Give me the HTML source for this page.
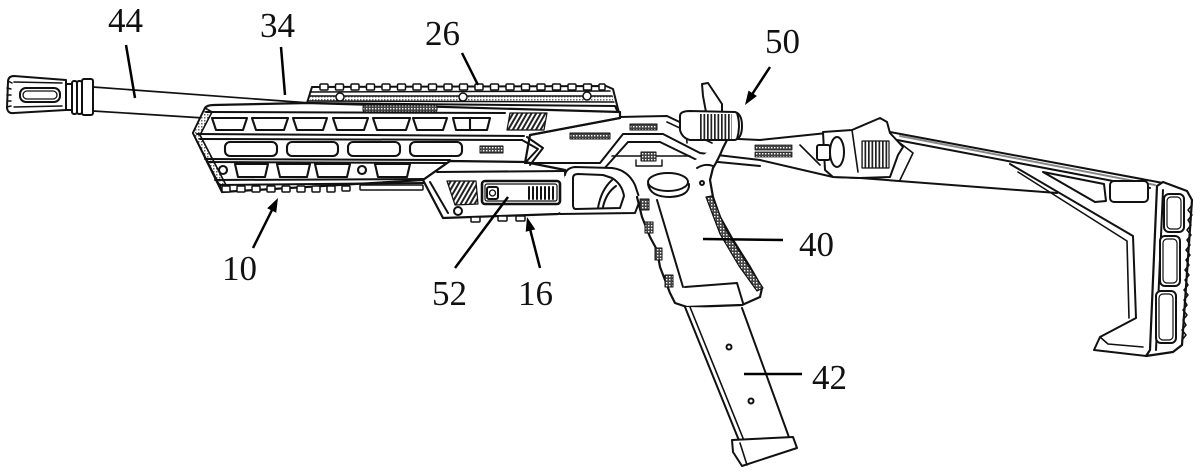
<!DOCTYPE html>
<html><head><meta charset="utf-8">
<style>
html,body{margin:0;padding:0;background:#fff;}
svg{display:block;}
text{font-family:"Liberation Serif","DejaVu Serif",serif;font-size:35px;fill:#111;}
</style></head><body>
<svg width="1200" height="475" viewBox="0 0 1200 475" xmlns="http://www.w3.org/2000/svg">
<defs>
<pattern id="hd" width="4" height="4" patternUnits="userSpaceOnUse" patternTransform="rotate(30)"><rect width="4" height="4" fill="#fff"/><rect width="2" height="4" fill="#222"/></pattern>
<pattern id="hv" width="3.5" height="4" patternUnits="userSpaceOnUse"><rect width="3.5" height="4" fill="#fff"/><rect width="1.7" height="4" fill="#222"/></pattern>
<pattern id="hx" width="3" height="3" patternUnits="userSpaceOnUse"><rect width="3" height="3" fill="#444"/><rect width="1.4" height="1.4" fill="#fff"/></pattern>
<pattern id="hl" width="3" height="3" patternUnits="userSpaceOnUse"><rect width="3" height="3" fill="#fff"/><rect width="1.5" height="1.5" fill="#666"/></pattern>
</defs>

<g fill="none" stroke="#111" stroke-width="2" stroke-linejoin="round" stroke-linecap="round">

<!-- ===== Muzzle & barrel ===== -->
<path d="M66,80 L14,76 Q8,76 8,82 L7,108 Q8,114 14,113 L66,110 Z" fill="#fff"/>
<path d="M8,81 L12,83 M7,88 L11,89 M7,95 L11,95 M7,101 L11,101 M7,107 L11,106" stroke-width="1.5"/>
<path d="M14,82 L62,83 M14,107 L62,106" stroke-width="1.5"/>
<rect x="20" y="88" width="40" height="14" rx="6"/>
<rect x="23" y="91" width="34" height="8" rx="4" stroke-width="1.3"/>
<rect x="66" y="84" width="6" height="26" rx="1"/>
<rect x="72" y="81" width="5" height="33" rx="2"/>
<rect x="77" y="81" width="5" height="33" rx="2"/>
<rect x="82" y="79" width="11" height="36" rx="2"/>
<path d="M93,87 L310,103" stroke-width="1.7"/>
<path d="M93,111 L204,118" stroke-width="1.7"/>

<!-- ===== Top rail (26) ===== -->
<path d="M312,87 L606,86 L613,89 L620,117 L615,106 L307,103 Z" fill="#fff"/>
<rect x="310" y="96" width="303" height="5" fill="url(#hl)" stroke="none"/>
<path d="M310,92 L610,91 M309,96 L612,96 M308,101 L614,102" stroke-width="1.5"/>
<g fill="#fff" stroke-width="1.5">
<rect x="320" y="84" width="8" height="6" rx="1"/><rect x="335.5" y="84" width="8" height="6" rx="1"/><rect x="351" y="84" width="8" height="6" rx="1"/><rect x="366.5" y="84" width="8" height="6" rx="1"/><rect x="382" y="84" width="8" height="6" rx="1"/><rect x="397.5" y="84" width="8" height="6" rx="1"/><rect x="413" y="84" width="8" height="6" rx="1"/><rect x="428.5" y="84" width="8" height="6" rx="1"/><rect x="444" y="84" width="8" height="6" rx="1"/><rect x="459.5" y="84" width="8" height="6" rx="1"/><rect x="475" y="84" width="8" height="6" rx="1"/><rect x="490.5" y="84" width="8" height="6" rx="1"/><rect x="506" y="84" width="8" height="6" rx="1"/><rect x="521.5" y="84" width="8" height="6" rx="1"/><rect x="537" y="84" width="8" height="6" rx="1"/><rect x="552.5" y="84" width="8" height="6" rx="1"/><rect x="568" y="84" width="8" height="6" rx="1"/><rect x="583.5" y="84" width="8" height="6" rx="1"/><rect x="599" y="84" width="6" height="6" rx="1"/>
<circle cx="340" cy="97" r="4"/><circle cx="463" cy="97" r="4"/><circle cx="587" cy="96" r="4"/>
</g>

<!-- ===== Handguard (10, 34) ===== -->
<path d="M205,108 Q207,105 214,105 L308,103 L620,112 L620,118 L530,135 L525,163 L450,161 L423,180 L222,192 L193,133 Z" fill="#fff" stroke-width="2.2"/>
<path d="M205,108 L193,133 L222,190 L226,185 L200,135 L212,112 Z" fill="url(#hl)" stroke-width="1.6"/>
<path d="M206,112 L505,113"/>
<rect x="363" y="105" width="74" height="7" rx="2" fill="url(#hx)" stroke-width="1"/>
<path d="M197,134 L524,136 M200,139 L522,140"/>
<path d="M205,159 L450,160 M207,162 L447,163"/>
<path d="M215,180 L425,179 M220,185 L425,183"/>
<!-- top row slots -->
<g fill="#fff" stroke-width="2.1">
<path d="M212,118 L247,118 L243,130 L216,130 Z"/>
<path d="M252,118 L288,118 L284,130 L256,130 Z"/>
<path d="M293,118 L327,118 L323,130 L297,130 Z"/>
<path d="M333,118 L368,118 L364,130 L337,130 Z"/>
<path d="M373,118 L410,118 L406,130 L377,130 Z"/>
<path d="M413,118 L447,118 L443,130 L417,130 Z"/>
<path d="M453,118 L490,118 L487,130 L456,130 Z M470,118 L470,130"/>
<!-- middle row -->
<rect x="225" y="142" width="52" height="14" rx="5"/>
<rect x="287" y="142" width="51" height="14" rx="5"/>
<rect x="348" y="142" width="52" height="14" rx="5"/>
<rect x="410" y="142" width="52" height="14" rx="5"/>
<!-- lower row -->
<path d="M235,164 L268,164 L265,177 L238,177 Z"/>
<path d="M277,164 L310,164 L307,177 L280,177 Z"/>
<path d="M315,164 L350,164 L347,177 L318,177 Z"/>
<path d="M375,164 L410,164 L407,177 L378,177 Z"/>
<circle cx="223" cy="170" r="4"/><circle cx="362" cy="170" r="4"/>
</g>
<rect x="480" y="146" width="23" height="7" fill="url(#hx)" stroke-width="1"/>
<!-- bottom rail teeth -->
<g fill="#fff" stroke-width="1.5">
<rect x="222" y="186" width="8" height="6" rx="1"/><rect x="237" y="186" width="8" height="6" rx="1"/><rect x="252" y="186" width="8" height="6" rx="1"/><rect x="267" y="186" width="8" height="6" rx="1"/><rect x="282" y="186" width="8" height="6" rx="1"/><rect x="297" y="186" width="8" height="6" rx="1"/><rect x="312" y="186" width="8" height="6" rx="1"/><rect x="327" y="186" width="8" height="6" rx="1"/><rect x="342" y="186" width="8" height="5" rx="1"/>
<rect x="360" y="185" width="63" height="5" rx="1"/>
</g>
<!-- vents -->
<path d="M510,113 L547,113 L544,130 L507,130 Z" fill="url(#hd)" stroke-width="1.2"/>

<!-- ===== Lower extension (16) with button (52) ===== -->
<path d="M423,180 L450,161 L525,162 L565,170 L568,210 L558,214 L443,218 Z" fill="#fff" stroke-width="2.2"/>
<path d="M430,182 L448,213 M437,172 L565,171"/>
<path d="M447,181 L476,181 L478,204 L455,205 Z" fill="url(#hd)" stroke-width="1.2"/>
<rect x="482" y="181" width="78" height="23" rx="3" fill="#fff" stroke-width="2.6"/>
<rect x="485" y="184" width="72" height="17" rx="2" stroke-width="1.2"/>
<rect x="487" y="187" width="11" height="12" rx="2"/>
<circle cx="492.5" cy="193" r="3" stroke-width="1.3"/>
<path d="M529,187 L529,199 M533,187 L533,199 M537,187 L537,199 M541,187 L541,199 M545,187 L545,199 M549,187 L549,199 M553,187 L553,199" stroke-width="2"/>
<circle cx="458" cy="211" r="4" fill="#fff"/>
<g fill="#fff" stroke-width="1.5"><rect x="471" y="217" width="9" height="5" rx="1"/><rect x="498" y="216" width="9" height="5" rx="1"/><rect x="516" y="216" width="9" height="5" rx="1"/></g>

<!-- ===== Central frame ===== -->
<path d="M527,137 L543,148 L530,165 M522,140 L538,149 L525,163"/>
<path d="M530,135 L620,118"/>
<rect x="570" y="133" width="40" height="6" fill="url(#hx)" stroke-width="1"/>
<rect x="630" y="124" width="27" height="6" fill="url(#hx)" stroke-width="1"/>
<path d="M525,163 L600,163 L623,134 L663,134 L700,153 L760,160 L833,177 L860,178 L1057,193"/>
<path d="M603,170 L628,142 L660,142 L697,160 L760,166"/>
<path d="M612,156 L690,156" stroke-width="1.6"/>
<rect x="641" y="152" width="15" height="9" fill="url(#hx)" stroke-width="1"/>
<path d="M636,160 L636,166 L662,166 L662,160" stroke-width="1.4"/>
<rect x="755" y="145" width="37" height="5" fill="url(#hx)" stroke-width="0.8"/>
<rect x="755" y="152" width="37" height="5" fill="url(#hx)" stroke-width="0.8"/>
<!-- upper receiver top -->
<path d="M620,117 L667,116 L688,126 L717,138 L760,140 L827,133"/>
<path d="M667,122 L712,143 M685,117 L687,143 M800,145 L820,165" stroke-width="1.6"/>

<!-- trigger guard -->
<path d="M565,175 Q566,168 575,167 L612,168 Q628,170 635,185 L640,200 L635,213 L560,214" fill="#fff"/>
<path d="M573,178 Q573,174 578,174 L603,175 L612,178 Q622,184 624,196 L620,208 L576,209 Q573,209 573,205 Z"/>
<path d="M612,180 Q601,190 598,208 M603,207 Q606,193 616,186"/>

<!-- ===== Charging handle (50) ===== -->
<path d="M702,84 L708,83 L722,104 L722,113 L706,112 L703,96 Z" fill="#fff"/>
<path d="M680,116 Q680,111 690,111 L735,112 Q742,114 742,126 Q742,138 735,140 L690,140 Q682,138 680,130 Z" fill="#fff"/>
<rect x="700" y="114" width="32" height="25" fill="url(#hv)" stroke="none"/>
<path d="M737,113 Q741,126 737,139"/>

<!-- ===== Grip (40) ===== -->
<path d="M637,197 L642,217 L650,237 L657,250 L660,267 L670,293 L675,303 L687,307 L742,305 L760,297 L762,288 L750,267 L733,240 L720,217 L713,197 L710,180 L713,168 Q718,160 723,148 L727,140" fill="#fff" stroke-width="2.2"/>
<path d="M697,168 Q705,163 713,166"/>
<path d="M657,200 L683,287 M685,287 L737,283 L743,303"/>
<path d="M706,197 L712,196 L726,230 L746,262 L763,288 L757,291 L739,266 L720,234 Z" fill="url(#hx)" stroke-width="1.2"/>
<g fill="url(#hx)" stroke-width="1"><rect x="640" y="199" width="9" height="11"/><rect x="645" y="222" width="8" height="11"/><rect x="655" y="248" width="7" height="12"/><rect x="665" y="275" width="8" height="12"/></g>
<ellipse cx="668" cy="182" rx="20" ry="9" fill="#fff"/>
<path d="M648,184 Q650,197 670,197 Q690,196 689,184"/>
<circle cx="702" cy="183" r="2"/>

<!-- ===== Magazine (42) ===== -->
<path d="M685,307 L740,443 L790,440 L742,308" fill="#fff"/>
<path d="M690,307 L745,443" stroke-width="1.6"/>
<path d="M732,440 L793,437 L797,448 L742,466 L733,452 Z" fill="#fff"/>
<path d="M740,443 L747,465" stroke-width="1.6"/>
<circle cx="729" cy="347" r="2.5"/><circle cx="751" cy="401" r="2.5"/>

<!-- ===== Stock ===== -->
<path d="M823,132 L852,130 L880,118 L887,122 L890,133 L903,147 L898,155 L890,177 L860,178 L833,177 L825,170 Z" fill="#fff"/>
<rect x="817" y="145" width="13" height="15" rx="2" fill="#fff"/>
<ellipse cx="837" cy="152" rx="7" ry="15" fill="#fff"/>
<rect x="862" y="141" width="27" height="27" fill="url(#hv)" stroke-width="1.2"/>
<path d="M852,130 L858,172 M900,143 L913,153 L900,180" stroke-width="1.6"/>
<path d="M890,132 L1163,183 M897,140 L1150,188"/>
<path d="M900,136 L1155,185" stroke="#888" stroke-width="2"/>
<path d="M1010,164 L1133,236 L1136,318 L1100,337 L1094,350 L1146,356"/>
<path d="M1018,172 L1127,241 L1129,318 M1100,337 L1108,344 L1143,347" stroke-width="1.6"/>
<path d="M1043,172 L1104,184 L1106,201 L1095,202 Z" fill="#fff"/>
<rect x="1110" y="181" width="38" height="21" rx="4" fill="#fff"/>
<path d="M1157,186 L1163,182 L1187,191 L1192,200 L1182,345 L1173,352 L1146,356 L1150,350 Z" fill="#fff" stroke-width="2.2"/>
<path d="M1163,190 L1156,350"/>
<path d="M1192,205 L1188,210 L1192,215 L1188,220 L1191,225 L1187,230 L1191,235 L1187,240 L1190,245 L1186,250 L1190,255 L1186,260 L1189,265 L1185,270 L1189,275 L1185,280 L1188,285 L1184,290 L1188,295 L1184,300 L1187,305 L1183,310 L1187,315 L1183,320 L1186,325 L1182,330 L1186,335 L1182,340" stroke-width="1.5"/>
<g fill="#fff"><rect x="1164" y="194" width="20" height="38" rx="5"/><rect x="1160" y="236" width="20" height="50" rx="5"/><rect x="1156" y="291" width="20" height="52" rx="5"/></g>
<g stroke-width="1.2"><rect x="1167" y="197" width="14" height="32" rx="4"/><rect x="1163" y="239" width="14" height="44" rx="4"/><rect x="1159" y="294" width="14" height="46" rx="4"/></g>
</g>

<!-- ===== Leader lines ===== -->
<g stroke="#000" stroke-width="2.5" fill="none" stroke-linecap="butt">
<path d="M126,45 L135,98"/>
<path d="M281,47 L285,95"/>
<path d="M462,53 L478,85"/>
<path d="M770,67 L751,96"/>
<path d="M703,239 L783,240"/>
<path d="M744,374 L802,374"/>
<path d="M253,248 L273,208"/>
<path d="M455,268 L508,197"/>
<path d="M540,268 L530,229"/>
</g>
<g fill="#000" stroke="none">
<polygon points="278,198 276.2,212.7 267.2,208.3"/>
<polygon points="527,217 535.3,229.4 525.7,231.8"/>
<polygon points="745,105 756.9,96 748.5,90.6"/>
</g>

<!-- ===== Labels ===== -->
<text x="108" y="32">44</text>
<text x="260" y="37">34</text>
<text x="425" y="45">26</text>
<text x="765" y="53">50</text>
<text x="799" y="256">40</text>
<text x="812" y="389">42</text>
<text x="222" y="280">10</text>
<text x="432" y="305">52</text>
<text x="518" y="305">16</text>
</svg>
</body></html>
